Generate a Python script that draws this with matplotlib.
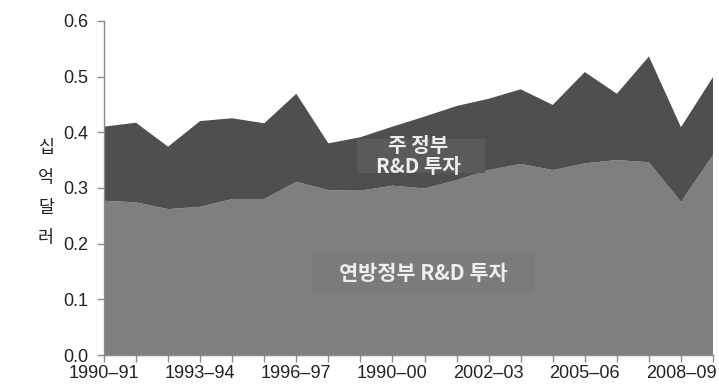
import numpy as np
import matplotlib
matplotlib.use("Agg")
import matplotlib.pyplot as plt
from matplotlib.patches import Rectangle

plt.rcParams['font.family'] = ['Liberation Sans', 'Noto Sans CJK KR', 'DejaVu Sans']

years = ["1990–91", "1991–92", "1992–93", "1993–94", "1994–95", "1995–96",
         "1996–97", "1997–98", "1998–99", "1990–00", "2000–01", "2001–02",
         "2002–03", "2003–04", "2004–05", "2005–06", "2006–07", "2007–08",
         "2008–09", "2009–10"]
federal = [0.277, 0.274, 0.262, 0.266, 0.280, 0.280, 0.311, 0.296, 0.295, 0.304,
           0.299, 0.314, 0.332, 0.343, 0.332, 0.344, 0.350, 0.346, 0.275, 0.359]
total = [0.410, 0.417, 0.374, 0.420, 0.425, 0.416, 0.469, 0.380, 0.391, 0.410,
         0.428, 0.447, 0.460, 0.477, 0.449, 0.508, 0.469, 0.536, 0.409, 0.499]
state = [t - f for t, f in zip(total, federal)]
label_idx = [0, 3, 6, 9, 12, 15, 18]

fig = plt.figure(figsize=(7.19, 3.88), dpi=100)
ax = fig.add_axes([0.1446, 0.085, 0.8471, 0.8614])

x = np.arange(len(years))
ax.stackplot(x, federal, state, colors=["#7f7f7f", "#4f4f4f"], linewidth=0)

ax.set_xlim(0, len(years) - 1)
ax.set_ylim(0, 0.6)
ax.set_xticks(x)
ax.set_xticklabels([years[i] if i in label_idx else "" for i in x])
ax.set_yticks(np.arange(0, 0.61, 0.1))
ax.set_yticklabels(["%.1f" % v for v in np.arange(0, 0.61, 0.1)])

for s in ["top", "right"]:
    ax.spines[s].set_visible(False)
for s in ["left", "bottom"]:
    ax.spines[s].set_color("#8a8a8a")
    ax.spines[s].set_linewidth(1)
ax.tick_params(axis="both", colors="#8a8a8a", length=5, width=1,
               labelcolor="#222222", labelsize=13)
ax.tick_params(axis="x", pad=2)
ax.tick_params(axis="y", pad=6)

# label boxes
ax.add_patch(Rectangle((7.9, 0.327), 4.0, 0.061, facecolor="#5a5a5a",
                       edgecolor="none", zorder=3))
ax.text(9.8, 0.357, "주 정부\nR&D 투자", ha="center", va="center",
        color="#eeeeee", fontsize=14.5, fontweight="bold", linespacing=1.0,
        family=["Noto Sans CJK KR"], zorder=4)
ax.add_patch(Rectangle((6.5, 0.110), 6.9, 0.073, facecolor="#7b7b7b",
                       edgecolor="none", zorder=3))
ax.text(9.95, 0.147, "연방정부 R&D 투자", ha="center", va="center",
        color="#eeeeee", fontsize=15, fontweight="bold",
        family=["Noto Sans CJK KR"], zorder=4)

fig.text(0.064, 0.502, "십\n억\n달\n러", ha="center", va="center",
         fontsize=12.5, color="#222222", linespacing=1.85,
         family=["Noto Sans CJK KR"])

fig.savefig("out.png", dpi=100)
